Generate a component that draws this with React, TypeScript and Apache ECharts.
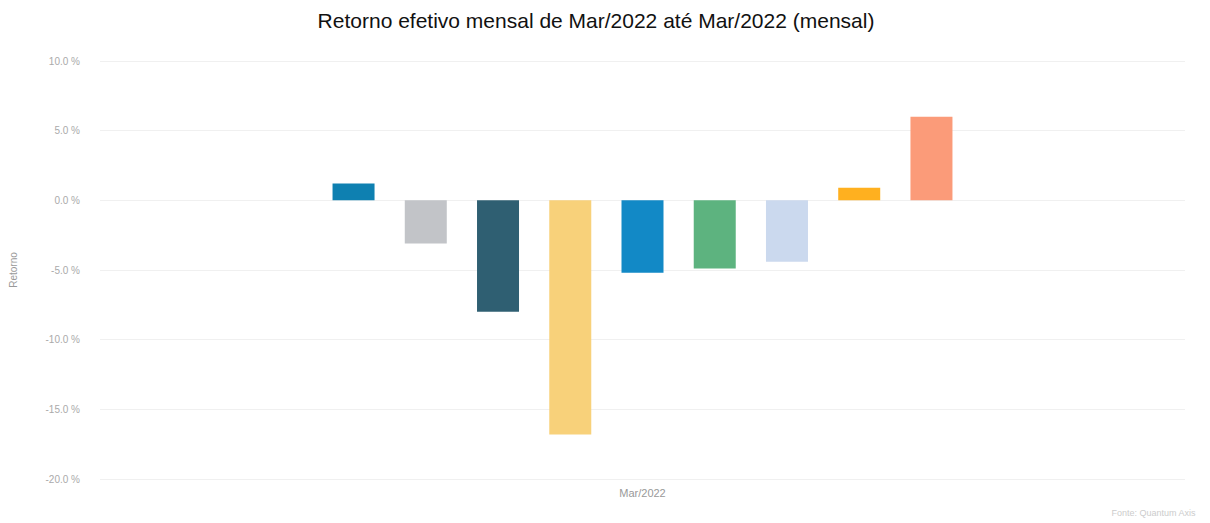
import React, { useEffect, useRef } from "react";
import * as echarts from "echarts";

const categories = ["Mar/2022"];
const seriesNames = ["Série 1", "Série 2", "Série 3", "Série 4", "Série 5", "Série 6", "Série 7", "Série 8", "Série 9"];
const seriesValues = [1.2, -3.1, -8.0, -16.8, -5.2, -4.9, -4.4, 0.9, 6.0];
const seriesColors = ["#0e80b1", "#c2c4c8", "#2f5f72", "#f8d17a", "#1289c6", "#5db37f", "#cbd9ee", "#ffb01f", "#fb9b79"];

export default function App() {
  const ref = useRef<HTMLDivElement>(null);
  useEffect(() => {
    document.body.style.margin = "0";
    const chart = echarts.init(ref.current!, null, { renderer: "svg" });
    chart.setOption({
      animation: false,
      backgroundColor: "#ffffff",
      title: {
        text: "Retorno efetivo mensal de Mar/2022 até Mar/2022 (mensal)",
        left: 591,
        textAlign: "center",
        top: 5,
        textStyle: { fontFamily: "Liberation Sans, Arial, sans-serif", fontSize: 21, fontWeight: "normal", color: "#111" },
      },
      graphic: [
        {
          type: "text",
          right: 14,
          top: 508,
          style: { text: "Fonte: Quantum Axis", fill: "#cccccc", fontSize: 9, fontFamily: "Liberation Sans, Arial, sans-serif" },
        },
      ],
      grid: { left: 100, right: 25, top: 61, bottom: 44, containLabel: false },
      xAxis: {
        type: "category",
        data: categories,
        axisLine: { show: false },
        axisTick: { show: false },
        axisLabel: { color: "#999", fontSize: 11, margin: 8, fontFamily: "Liberation Sans, Arial, sans-serif" },
      },
      yAxis: {
        type: "value",
        min: -20,
        max: 10,
        interval: 5,
        name: "Retorno",
        nameLocation: "middle",
        nameGap: 82,
        nameTextStyle: { color: "#999", fontSize: 10, fontFamily: "Liberation Sans, Arial, sans-serif" },
        axisLine: { show: false },
        axisTick: { show: false },
        splitLine: { lineStyle: { color: "#f0f0f0" } },
        axisLabel: {
          color: "#aaa",
          fontSize: 10,
          margin: 20,
          fontFamily: "Liberation Sans, Arial, sans-serif",
          formatter: (v: number) => v.toFixed(1) + " %",
        },
      },
      series: seriesNames.map((name, i) => ({
        name,
        type: "bar",
        data: [seriesValues[i]],
        barWidth: 42,
        barGap: "72%",
        itemStyle: { color: seriesColors[i] },
      })),
    });
    return () => chart.dispose();
  }, []);
  return <div ref={ref} style={{ width: 1210, height: 523 }} />;
}
